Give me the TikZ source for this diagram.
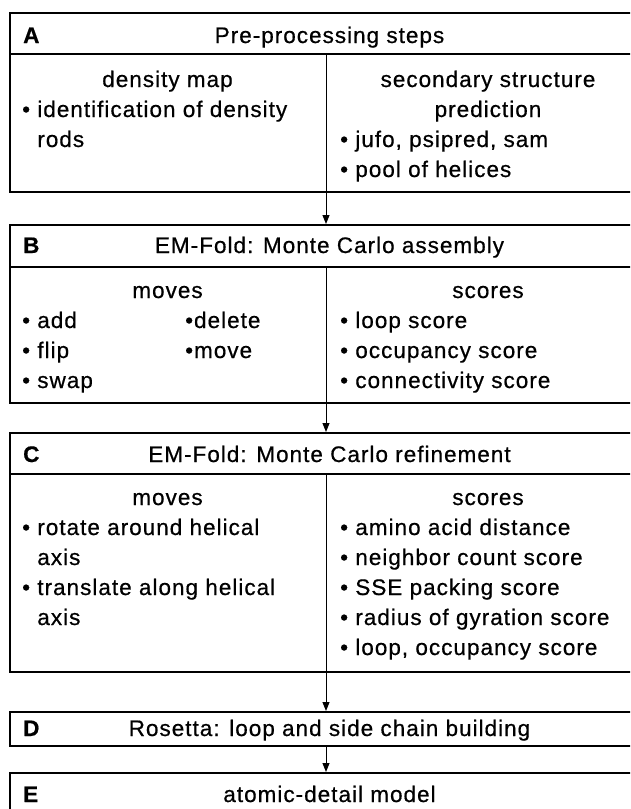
\documentclass[tikz,border=0pt]{standalone}
\usepackage{fontspec}
\setmainfont{Liberation Sans}[LetterSpace=4.5,FakeBold=0.6]
\usetikzlibrary{arrows.meta}
\begin{document}
\begin{tikzpicture}[x=1pt,y=-1pt,
  panel/.style={draw, line width=1.8pt, anchor=north west, inner sep=0pt, minimum width=641pt},
  rule/.style={line width=1.8pt},
  divider/.style={line width=1pt},
  arr/.style={line width=1pt, -{Triangle[length=9pt,width=7pt]}},
  lt/.style={inner sep=0pt, anchor=base west},
  ct/.style={inner sep=0pt, anchor=base},
  every node/.append style={font=\fontsize{22.5}{30}\selectfont}]
\useasboundingbox (0,0) rectangle (630,809);
\clip (0,0) rectangle (630,809);
\fill[white] (0,0) rectangle (630,809);
\coordinate (dv) at (326,0);

% ---------- A ----------
\node[panel, minimum height=179pt] (A) at (9,12) {};
\draw[rule] (9,54) -- (650,54);
\draw[divider] (326,54) -- (A.south -| dv);
\node[lt] (Al) at (23,43) {\bfseries A};
\node[ct] (At) at (329.5,43) {Pre-processing steps};
\node[ct] (A1) at (167.5,87) {density map};
\node[lt] (A2) at (22,117) {• identification of density};
\node[lt] (A3) at (22,147) {\hphantom{• }rods};
\node[ct] (A4) at (488,87) {secondary structure};
\node[ct] (A5) at (488,117) {prediction};
\node[lt] (A6) at (340,147) {• jufo, psipred, sam};
\node[lt] (A7) at (340,177) {• pool of helices};

% ---------- B ----------
\node[panel, minimum height=178pt] (B) at (9,224) {};
\draw[rule] (9,267) -- (650,267);
\draw[divider] (326,267) -- (B.south -| dv);
\node[lt] (Bl) at (23,253) {\bfseries B};
\node[ct] (Bt) at (329.5,253) {EM-Fold: Monte Carlo assembly};
\node[ct] (B1) at (167.5,298) {moves};
\node[lt] (B2) at (22,328) {• add};
\node[lt] (B3) at (22,358) {• flip};
\node[lt] (B4) at (22,388) {• swap};
\node[lt] (B5) at (185,328) {•delete};
\node[lt] (B6) at (185,358) {•move};
\node[ct] (B7) at (488,298) {scores};
\node[lt] (B8) at (340,328) {• loop score};
\node[lt] (B9) at (340,358) {• occupancy score};
\node[lt] (B10) at (340,388) {• connectivity score};

% ---------- C ----------
\node[panel, minimum height=239pt] (C) at (9,432) {};
\draw[rule] (9,474) -- (650,474);
\draw[divider] (326,474) -- (C.south -| dv);
\node[lt] (Cl) at (23,462) {\bfseries C};
\node[ct] (Ct) at (329.5,462) {EM-Fold: Monte Carlo refinement};
\node[ct] (C1) at (167.5,505) {moves};
\node[lt] (C2) at (22,535) {• rotate around helical};
\node[lt] (C3) at (22,565) {\hphantom{• }axis};
\node[lt] (C4) at (22,595) {• translate along helical};
\node[lt] (C5) at (22,625) {\hphantom{• }axis};
\node[ct] (C6) at (488,505) {scores};
\node[lt] (C7) at (340,535) {• amino acid distance};
\node[lt] (C8) at (340,565) {• neighbor count score};
\node[lt] (C9) at (340,595) {• SSE packing score};
\node[lt] (C10) at (340,625) {• radius of gyration score};
\node[lt] (C11) at (340,655) {• loop, occupancy score};

% ---------- D ----------
\node[panel, minimum height=34pt] (D) at (9,711) {};
\node[lt] (Dl) at (23,736) {\bfseries D};
\node[ct] (Dt) at (329.5,736) {Rosetta: loop and side chain building};

% ---------- E ----------
\node[panel, minimum height=60pt] (E) at (9,772) {};
\node[lt] (El) at (23,802) {\bfseries E};
\node[ct] (Et) at (329.5,802) {atomic-detail model};

% ---------- arrows ----------
\draw[arr] (A.south -| dv) -- (B.north -| dv);
\draw[arr] (B.south -| dv) -- (C.north -| dv);
\draw[arr] (C.south -| dv) -- (D.north -| dv);
\draw[arr] (D.south -| dv) -- (E.north -| dv);
\end{tikzpicture}
\end{document}
